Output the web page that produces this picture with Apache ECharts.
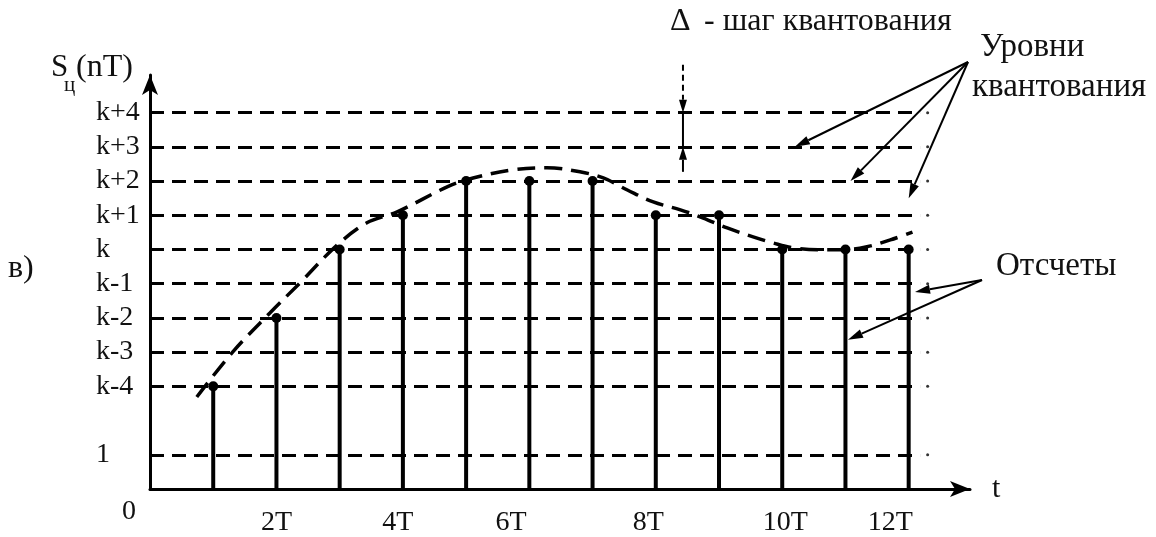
<!DOCTYPE html>
<html><head><meta charset="utf-8">
<script src="https://cdn.jsdelivr.net/npm/echarts@6/dist/echarts.min.js"></script>
<style>html,body{margin:0;padding:0;background:#fff}#c{width:1156px;height:537px}</style>
</head><body><div id="c"></div>
<script>
// ---- data ----
const sampleT = [1, 2, 3, 4, 5, 6, 7, 8, 9, 10, 11, 12];
const sampleLevel = [3, 5, 7, 8, 9, 9, 9, 8, 8, 7, 7, 7];
const levelValues = [0, 1, 3, 4, 5, 6, 7, 8, 9, 10, 11];
const levelLabels = ['0', '1', 'k-4', 'k-3', 'k-2', 'k-1', 'k', 'k+1', 'k+2', 'k+3', 'k+4'];
const gridLevels = [1, 3, 4, 5, 6, 7, 8, 9, 10, 11];
const timeTickValues = [2, 3.92, 5.71, 7.88, 10.05, 11.71];
const timeTickLabels = ['2T', '4T', '6T', '8T', '10T', '12T'];
const curveT = [0.74, 1.31, 1.90, 2.37, 2.96, 3.43, 3.91, 4.70, 5.11, 5.74, 6.28, 6.80, 7.17, 7.55, 7.96, 8.39, 8.75, 9.13, 9.54, 9.86, 10.17, 10.65, 10.96, 11.34, 11.71, 12.06];
const curveS = [2.69, 4.01, 5.15, 6.02, 7.13, 7.78, 8.10, 8.83, 9.09, 9.33, 9.39, 9.27, 9.09, 8.74, 8.39, 8.16, 7.92, 7.63, 7.37, 7.19, 7.05, 6.99, 6.99, 7.08, 7.28, 7.51];
const levelLineEnd = 12.18;
const levelDotT = 12.3;

const FONT = 'Liberation Serif';
const INK = '#111';

const chart = echarts.init(document.getElementById('c'), null, {renderer: 'canvas'});

const option = {
  animation: false,
  backgroundColor: '#fff',
  grid: {left: 150, right: 186, top: 75, bottom: 48, containLabel: false, outerBoundsMode: 'none'},
  xAxis: {
    type: 'value', min: 0, max: 12.97,
    axisLine: {show: true, onZero: false, lineStyle: {color: '#000', width: 3}, symbol: ['none', 'arrow'], symbolSize: [12, 20]},
    axisTick: {show: false},
    splitLine: {show: false},
    axisLabel: {
      customValues: timeTickValues,
      formatter: v => { const i = timeTickValues.indexOf(v); return i >= 0 ? timeTickLabels[i] : ''; },
      fontFamily: FONT, fontSize: 28, color: INK, margin: 20
    },
    name: 't', nameLocation: 'end', nameGap: 22,
    nameTextStyle: {fontFamily: FONT, fontSize: 30, color: INK, verticalAlign: 'middle', padding: [0, 0, 4, 0]}
  },
  yAxis: {
    type: 'value', min: 0, max: 12.1,
    axisLine: {show: true, onZero: false, lineStyle: {color: '#000', width: 3}, symbol: ['none', 'arrow'], symbolSize: [12, 20]},
    axisTick: {show: false},
    splitLine: {show: false},
    axisLabel: {
      customValues: levelValues,
      formatter: v => { const i = levelValues.indexOf(v); if (i < 0) return ''; return v === 0 ? '{z|0}' : levelLabels[i]; },
      fontFamily: FONT, fontSize: 28, color: INK, align: 'left', margin: 54,
      rich: {z: {fontFamily: FONT, fontSize: 28, color: INK, padding: [46, 0, 0, 26]}}
    }
  },
  series: [
    {
      type: 'bar', name: 'stems',
      data: sampleT.map((t, i) => [t, sampleLevel[i]]),
      barWidth: 4,
      itemStyle: {color: '#000'},
      z: 3,
      markLine: {
        silent: true, symbol: ['none', 'none'], label: {show: false},
        lineStyle: {color: '#000', width: 3, type: [14, 8]},
        data: gridLevels.map(l => [{coord: [0, l]}, {coord: [levelLineEnd, l]}])
      }
    },
    {
      type: 'scatter', name: 'levelEnds',
      data: gridLevels.map(l => [levelDotT, l]),
      symbol: 'circle', symbolSize: 3,
      itemStyle: {color: '#333', opacity: 1}, z: 2
    },
    {
      type: 'scatter', name: 'dots',
      data: sampleT.map((t, i) => [t, sampleLevel[i]]),
      symbol: 'circle', symbolSize: 10,
      itemStyle: {color: '#000', opacity: 1}, z: 4
    },
    {
      type: 'line', name: 'signal',
      data: curveT.map((t, i) => [t, curveS[i]]),
      smooth: 0.35, showSymbol: false,
      lineStyle: {color: '#000', width: 3.5, type: [18, 9]}, z: 5
    }
  ]
};
chart.setOption(option);

const P = (t, s) => chart.convertToPixel({gridIndex: 0}, [t, s]);

function arrowEls(p1, p2, opt) {
  opt = opt || {};
  const headLen = opt.headLen || 15, headW = opt.headW || 9, lw = opt.lw || 2;
  const dx = p2[0] - p1[0], dy = p2[1] - p1[1];
  const L = Math.hypot(dx, dy), ux = dx / L, uy = dy / L;
  const bx = p2[0] - ux * headLen, by = p2[1] - uy * headLen;
  const nx = -uy, ny = ux;
  return [
    {type: 'line', silent: true, shape: {x1: p1[0], y1: p1[1], x2: bx, y2: by},
      style: {stroke: '#000', lineWidth: lw, lineDash: opt.dash || null}},
    {type: 'polygon', silent: true, shape: {points: [[p2[0], p2[1]], [bx + nx * headW / 2, by + ny * headW / 2], [bx - nx * headW / 2, by - ny * headW / 2]]},
      style: {fill: '#000'}}
  ];
}
function txt(x, y, text, size, align, vAlign) {
  return {type: 'text', silent: true, x: x, y: y,
    style: {text: text, fontFamily: FONT, fontSize: size, fill: INK, align: align || 'left', verticalAlign: vAlign || 'middle'}};
}

const g = [];
// y axis title S_ц(nT)
g.push(txt(51, 68, 'S', 31));
g.push(txt(64, 85, 'ц', 21));
g.push(txt(76, 68, '(nT)', 32));
// panel label
g.push(txt(8, 269, 'в)', 32));
// quantization step annotation
g.push(txt(670, 22, 'Δ', 32));
g.push(txt(704, 22, '- шаг квантования', 32));
const dX = 8.43;
const topP = P(dX, 12.4), k4 = P(dX, 11), k3 = P(dX, 10), lowP = P(dX, 9.27);
g.push(...arrowEls(topP, k4, {dash: [6, 4], headLen: 13, headW: 8}));
g.push({type: 'line', silent: true, shape: {x1: k4[0], y1: k4[1], x2: k3[0], y2: k3[1]}, style: {stroke: '#000', lineWidth: 2}});
g.push(...arrowEls(lowP, k3, {headLen: 13, headW: 8}));
// quantization levels annotation
g.push(txt(980, 47, 'Уровни', 33));
g.push(txt(972, 87, 'квантования', 33));
const lvOrigin = [968, 62];
g.push(...arrowEls(lvOrigin, P(10.2, 10)));
g.push(...arrowEls(lvOrigin, P(11.08, 9)));
g.push(...arrowEls(lvOrigin, P(12.0, 8.5)));
// samples annotation
g.push(txt(996, 266, 'Отсчеты', 33));
const smOrigin = [982, 280];
g.push(...arrowEls(smOrigin, P(12.1, 5.76)));
g.push(...arrowEls(smOrigin, P(11.04, 4.36)));

chart.setOption({graphic: g});
</script>
</body></html>
